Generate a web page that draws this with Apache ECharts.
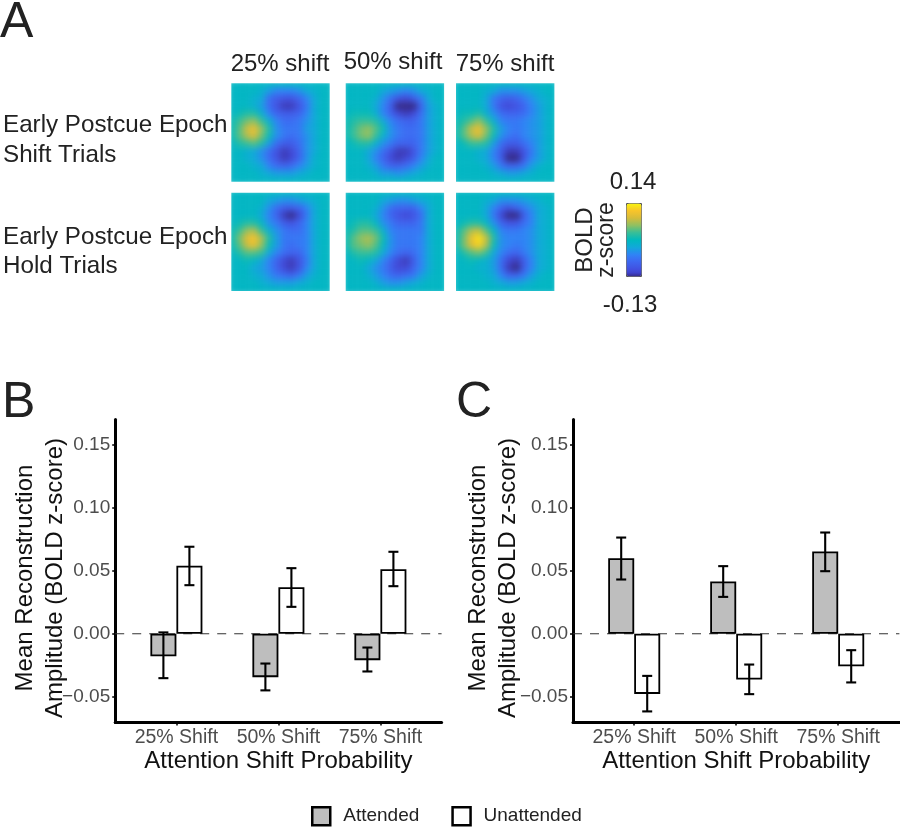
<!DOCTYPE html>
<html><head><meta charset="utf-8">
<style>
html,body{margin:0;padding:0;background:#fff}
#wrap{position:relative;width:900px;height:827px}
#main{position:absolute;left:0;top:0;width:900px;height:827px}
#heat{position:absolute;left:0;top:0;width:900px;height:320px;pointer-events:none;
 filter:blur(3.3px);
 clip-path:path("M231.3 83.3h98.4v98.4h-98.4zM345.7 83.3h98.4v98.4h-98.4zM456 83.3h98.4v98.4h-98.4zM231.3 192.7h98.4v98.4h-98.4zM345.7 192.7h98.4v98.4h-98.4zM456 192.7h98.4v98.4h-98.4z")}
</style>
<script src="https://cdn.jsdelivr.net/npm/echarts@6/dist/echarts.min.js"></script>
</head><body><div id="wrap"><div id="main"></div><div id="heat"></div></div>
<script>
// ---------- data ----------
const categories = ['25% Shift','50% Shift','75% Shift'];
const yTicks = [-0.05,0,0.05,0.10,0.15];
const bAttended = [-0.018,-0.0345,-0.021];
const bAttendedLow = [-0.0353,-0.045,-0.030];
const bAttendedHigh = [0.001,-0.0237,-0.011];
const bUnattended = [0.054,0.0369,0.0512];
const bUnattendedLow = [0.0385,0.0213,0.0377];
const bUnattendedHigh = [0.069,0.052,0.065];
const cAttended = [0.0599,0.0414,0.0652];
const cAttendedLow = [0.043,0.0292,0.0496];
const cAttendedHigh = [0.0763,0.0536,0.0803];
const cUnattended = [-0.0478,-0.0364,-0.0258];
const cUnattendedLow = [-0.0617,-0.048,-0.0387];
const cUnattendedHigh = [-0.0335,-0.0245,-0.0131];
const parula = ['#352a87','#3f42cc','#4150e0','#3f5ce8','#3d66f0','#3874f4','#2f84f5','#2096e8','#12a8da','#08b1cc','#00b9be','#1cbcaa','#38be98','#62bf7c','#8fc062','#b2be4e','#d4bc3a','#e8c032','#f8c42a','#f8dc1c','#f8f50f'];
const colorMin = -13, colorMax = 14; // hundredths of a z-score
const cellLabels = [0,1,2,3,4,5,6,7,8,9,10,11,12,13];
const shift25 = [
[0,0,0,0,0,0,0,0,0,0,0,0,0,0],
[0,0,0,0,-1,-3,-5,-5,-5,-4,-2,-1,0,0],
[0,0,0,-1,-2,-7,-9,-10,-10,-8,-5,-2,0,0],
[0,0,0,-1,-3,-7,-10,-12,-12,-10,-6,-2,0,0],
[0,1,2,2,-1,-5,-8,-9,-9,-8,-5,-2,0,0],
[1,3,5,6,3,-1,-5,-7,-7,-6,-4,-2,0,0],
[1,4,8,10,6,2,-4,-6,-6,-6,-3,-2,0,0],
[1,4,7,9,5,1,-4,-6,-7,-6,-4,-2,0,0],
[0,2,3,4,2,-3,-7,-9,-9,-7,-4,-2,0,0],
[0,0,-1,-2,-4,-7,-10,-12,-11,-8,-4,-2,0,0],
[0,0,-1,-2,-4,-7,-10,-12,-11,-8,-4,-1,0,0],
[0,0,0,-1,-2,-5,-7,-8,-7,-5,-3,-1,0,0],
[0,0,0,0,-1,-2,-3,-3,-3,-2,-1,0,0,0],
[0,0,0,0,0,0,0,0,0,0,0,0,0,0]];
const shift50 = [
[0,0,0,0,0,0,0,0,0,0,0,0,0,0],
[0,0,0,0,0,-2,-3,-4,-5,-4,-2,-1,0,0],
[0,0,0,0,-1,-4,-7,-10,-11,-9,-6,-2,0,0],
[0,0,0,0,-2,-5,-9,-13,-15,-13,-8,-3,-1,0],
[0,1,1,1,-1,-5,-8,-11,-12,-11,-7,-3,-1,0],
[1,2,3,3,2,-2,-5,-7,-8,-8,-6,-3,-1,0],
[1,3,5,6,4,1,-4,-6,-7,-7,-6,-3,-1,0],
[1,3,5,6,3,-1,-4,-6,-7,-7,-6,-3,-1,0],
[0,1,2,2,-1,-4,-6,-8,-8,-8,-6,-3,-1,0],
[0,0,0,-2,-4,-7,-10,-12,-12,-10,-6,-3,-1,0],
[0,0,0,-2,-5,-8,-11,-12,-11,-9,-5,-2,0,0],
[0,0,0,-1,-3,-6,-8,-8,-7,-5,-3,-1,0,0],
[0,0,0,0,-1,-3,-3,-4,-3,-2,-1,0,0,0],
[0,0,0,0,0,0,0,0,0,0,0,0,0,0]];
const shift75 = [
[0,0,0,0,0,0,0,0,0,0,0,0,0,0],
[0,0,0,0,-1,-2,-4,-4,-4,-3,-2,-1,0,0],
[0,0,0,0,-2,-6,-8,-9,-8,-6,-4,-2,-1,0],
[0,0,0,0,-2,-6,-10,-11,-10,-8,-5,-3,-1,0],
[0,1,1,2,-1,-4,-7,-8,-8,-7,-5,-3,-1,0],
[1,2,4,6,3,-1,-5,-6,-6,-5,-4,-3,-1,0],
[1,4,8,10,6,2,-3,-5,-6,-5,-4,-3,-1,0],
[1,4,7,9,5,1,-4,-6,-7,-5,-4,-3,-1,0],
[0,1,3,3,2,-3,-7,-9,-9,-7,-5,-3,-1,0],
[0,0,0,-1,-2,-5,-9,-12,-12,-10,-6,-3,-1,0],
[0,0,0,-1,-2,-5,-9,-13,-13,-10,-5,-3,-1,0],
[0,0,0,0,-1,-3,-6,-8,-8,-6,-3,-1,0,0],
[0,0,0,0,0,-1,-2,-3,-3,-2,-1,0,0,0],
[0,0,0,0,0,0,0,0,0,0,0,0,0,0]];
const hold25 = [
[0,0,0,0,0,0,0,0,0,0,0,0,0,0],
[0,0,0,0,0,-2,-3,-4,-4,-3,-2,-1,0,0],
[0,0,0,0,-1,-4,-7,-9,-9,-8,-5,-2,0,0],
[0,0,0,0,-2,-5,-8,-12,-13,-11,-6,-2,0,0],
[0,1,2,2,0,-4,-6,-9,-10,-8,-5,-2,0,0],
[1,3,6,7,3,-1,-4,-6,-7,-7,-5,-2,0,0],
[1,5,9,11,7,2,-3,-6,-6,-6,-5,-2,0,0],
[1,4,8,10,6,1,-3,-6,-7,-6,-5,-2,0,0],
[0,2,4,4,3,-2,-5,-7,-8,-8,-5,-2,0,0],
[0,0,1,0,-2,-5,-8,-11,-12,-10,-6,-2,0,0],
[0,0,0,-2,-3,-5,-8,-11,-12,-10,-5,-2,0,0],
[0,0,0,-1,-2,-4,-6,-7,-8,-6,-3,-1,0,0],
[0,0,0,0,-1,-2,-3,-3,-3,-2,-1,0,0,0],
[0,0,0,0,0,0,0,0,0,0,0,0,0,0]];
const hold50 = [
[0,0,0,0,0,0,0,0,0,0,0,0,0,0],
[0,0,0,0,0,-2,-3,-4,-4,-3,-2,-1,0,0],
[0,0,0,0,-1,-4,-7,-8,-8,-8,-5,-2,0,0],
[0,0,0,0,-2,-5,-8,-10,-11,-10,-7,-2,0,0],
[0,1,2,2,0,-4,-6,-8,-8,-8,-6,-2,0,0],
[1,2,4,4,3,-1,-5,-6,-6,-6,-6,-2,0,0],
[1,4,6,7,5,1,-4,-6,-6,-6,-5,-2,0,0],
[1,4,5,6,4,0,-4,-6,-6,-6,-5,-2,0,0],
[0,2,3,3,2,-2,-5,-7,-8,-7,-5,-2,0,0],
[0,0,1,0,-2,-5,-8,-11,-12,-9,-5,-2,0,0],
[0,0,0,-2,-4,-6,-9,-11,-11,-8,-5,-2,0,0],
[0,0,0,-1,-3,-5,-7,-8,-7,-6,-3,-1,0,0],
[0,0,0,0,-1,-3,-4,-4,-3,-2,-1,0,0,0],
[0,0,0,0,0,0,0,0,0,0,0,0,0,0]];
const hold75 = [
[0,0,0,0,0,0,0,0,0,0,0,0,0,0],
[0,0,0,0,-1,-2,-4,-4,-4,-3,-2,-1,0,0],
[0,0,0,0,-2,-5,-8,-10,-8,-6,-4,-2,-1,0],
[0,0,0,0,-2,-6,-11,-15,-13,-9,-5,-2,-1,0],
[0,1,2,2,0,-4,-8,-10,-10,-7,-5,-2,-1,0],
[1,4,7,8,4,0,-5,-6,-6,-5,-4,-2,-1,0],
[1,5,10,13,8,2,-4,-5,-5,-5,-4,-2,-1,0],
[1,5,9,12,7,1,-4,-5,-6,-5,-4,-2,-1,0],
[0,2,4,5,3,-2,-5,-7,-8,-6,-4,-2,-1,0],
[0,0,1,0,-1,-3,-7,-11,-12,-9,-5,-2,-1,0],
[0,0,0,-1,-1,-3,-7,-12,-13,-9,-5,-2,-1,0],
[0,0,0,0,-1,-2,-5,-8,-8,-6,-3,-1,0,0],
[0,0,0,0,0,-1,-2,-3,-3,-2,-1,0,0,0],
[0,0,0,0,0,0,0,0,0,0,0,0,0,0]];
const panels = [shift25,shift50,shift75,hold25,hold50,hold75];

// ---------- heat maps ----------
const FONT = '"Liberation Sans", Arial, sans-serif';
const panelLefts = [231.3,345.7,456], panelTops = [83.3,192.7];
const heatGrids=[],heatX=[],heatY=[],heatSeries=[];
panels.forEach((p,i)=>{
  const col=i%3,row=Math.floor(i/3);
  heatGrids.push({left:panelLefts[col]-3.3,top:panelTops[row]-3.3,width:105,height:105});
  heatX.push({type:'category',gridIndex:i,data:cellLabels,show:false});
  heatY.push({type:'category',gridIndex:i,data:cellLabels,inverse:true,show:false});
  const d=[];p.forEach((r,y)=>r.forEach((v,x)=>d.push([x,y,v])));
  heatSeries.push({type:'heatmap',xAxisIndex:i,yAxisIndex:i,data:d,silent:true,itemStyle:{borderWidth:0}});
});
const heat=echarts.init(document.getElementById('heat'));
heat.setOption({animation:false,grid:heatGrids,xAxis:heatX,yAxis:heatY,series:heatSeries,
 visualMap:{show:false,min:colorMin,max:colorMax,inRange:{color:parula},seriesIndex:heatSeries.map((s,i)=>i)}});

// ---------- bar panels ----------
const xDodge=0.1275;
function barPanel(idx,att,attLo,attHi,un,unLo,unHi){
  const pts=a=>a.map((v,i)=>[i+1,v]);
  const err=(lo,hi)=>lo.map((v,i)=>[i+1,v,hi[i]]);
  const barStyle=c=>({color:c,borderColor:'#000',borderWidth:1.8});
  const errSeries=(name,lo,hi,off)=>({type:'custom',name:name,xAxisIndex:idx,yAxisIndex:idx,z:5,silent:true,
    data:err(lo,hi),encode:{x:0,y:[1,2]},
    renderItem:(ctx,api)=>{
      const x=api.value(0)+off;
      const a=api.coord([x,api.value(1)]),b=api.coord([x,api.value(2)]);
      const st={stroke:'#000',lineWidth:2.1,fill:null};
      return {type:'group',children:[
        {type:'line',shape:{x1:a[0],y1:a[1],x2:b[0],y2:b[1]},style:st},
        {type:'line',shape:{x1:a[0]-5,y1:a[1],x2:a[0]+5,y2:a[1]},style:st},
        {type:'line',shape:{x1:b[0]-5,y1:b[1],x2:b[0]+5,y2:b[1]},style:st}]};
    }});
  return [
    {type:'line',xAxisIndex:idx,yAxisIndex:idx,data:[[0.4,0],[3.6,0]],showSymbol:false,silent:true,z:1,
      lineStyle:{color:'#333',width:1.1,type:[9,8]}},
    {type:'bar',name:'Attended',xAxisIndex:idx,yAxisIndex:idx,data:pts(att),barWidth:26,barGap:'0%',z:3,itemStyle:barStyle('#bebebe')},
    {type:'bar',name:'Unattended',xAxisIndex:idx,yAxisIndex:idx,data:pts(un),barWidth:26,barGap:'0%',z:3,itemStyle:barStyle('#ffffff')},
    errSeries('Attended error',attLo,attHi,-xDodge),
    errSeries('Unattended error',unLo,unHi,xDodge)
  ];
}
const xAx=i=>({type:'value',gridIndex:i,min:0.4,max:3.6,splitLine:{show:false},
  name:'Attention Shift Probability',nameLocation:'middle',nameGap:27,
  nameTextStyle:{fontFamily:FONT,fontSize:24,color:'#111'},
  axisLine:{show:true,onZero:false,lineStyle:{color:'#000',width:3}},
  axisTick:{show:true,length:3,customValues:[1,2,3],lineStyle:{color:'#000',width:1.5}},
  axisLabel:{customValues:[1,2,3],formatter:v=>categories[Math.round(v)-1],fontFamily:FONT,fontSize:19.5,color:'#4d4d4d',margin:5}});
const yAx=(i,gap)=>({type:'value',gridIndex:i,min:-0.0705,max:0.17,splitLine:{show:false},
  name:'Mean Reconstruction\nAmplitude (BOLD z-score)',nameLocation:'middle',nameGap:gap,nameRotate:90,nameMoveOverlap:false,
  nameTextStyle:{fontFamily:FONT,fontSize:24,color:'#111',lineHeight:30,padding:[0,14,0,0]},
  axisLine:{show:true,onZero:false,lineStyle:{color:'#000',width:3}},
  axisTick:{show:true,length:3,customValues:yTicks,lineStyle:{color:'#000',width:1.5}},
  axisLabel:{customValues:yTicks,formatter:v=>{const s=Math.abs(v).toFixed(2);return v<-1e-9?'\u2212'+s:s;},fontFamily:FONT,fontSize:19,color:'#4d4d4d',margin:5}});

const txt=(text,x,y,size,o)=>Object.assign({type:'text',x:x,y:y,silent:true,
  style:Object.assign({text:text,font:size+'px '+FONT,fill:'#222',align:'left',verticalAlign:'middle'},(o&&o.style)||{})},o&&o.rotation?{rotation:o.rotation}:{});
const graphics=[
  txt('A',0,23,50),txt('B',2,403,50),txt('C',456,403,50),
  txt('25% shift',280,64,24,{style:{align:'center'}}),
  txt('50% shift',393,62,24,{style:{align:'center'}}),
  txt('75% shift',505,64,24,{style:{align:'center'}}),
  txt('Early Postcue Epoch',3,125,24.2),txt('Shift Trials',3,155,24.2),
  txt('Early Postcue Epoch',3,237,24.2),txt('Hold Trials',3,266,24.2),
  txt('BOLD',585,240,24,{rotation:Math.PI/2,style:{align:'center'}}),
  txt('z-score',607,240,23,{rotation:Math.PI/2,style:{align:'center'}}),
  txt('0.14',633,182,24,{style:{align:'center'}}),
  txt('-0.13',630,305,24,{style:{align:'center'}})
];

const main=echarts.init(document.getElementById('main'));
main.setOption({animation:false,
  grid:[{left:115.2,top:419.5,width:326.4,height:303,outerBoundsMode:'none'},{left:573,top:419.5,width:326.4,height:303,outerBoundsMode:'none'}],
  xAxis:[xAx(0),xAx(1)],yAxis:[yAx(0,45),yAx(1,50)],
  legend:{data:['Attended','Unattended'],left:311,top:806,padding:0,itemWidth:18,itemHeight:18,itemGap:32,icon:'rect',
    selectedMode:false,itemStyle:{borderColor:'#000',borderWidth:2.5},
    textStyle:{fontFamily:FONT,fontSize:19,color:'#222',padding:[2,0,0,8]}},
  visualMap:{type:'continuous',seriesIndex:[],min:colorMin,max:colorMax,inRange:{color:parula},
    calculable:false,orient:'vertical',left:626,top:203,itemWidth:15,itemHeight:73,padding:0,
    borderColor:'#555',borderWidth:1,text:null},
  graphic:graphics,
  series:[].concat(
    barPanel(0,bAttended,bAttendedLow,bAttendedHigh,bUnattended,bUnattendedLow,bUnattendedHigh),
    barPanel(1,cAttended,cAttendedLow,cAttendedHigh,cUnattended,cUnattendedLow,cUnattendedHigh))
});
</script></body></html>
